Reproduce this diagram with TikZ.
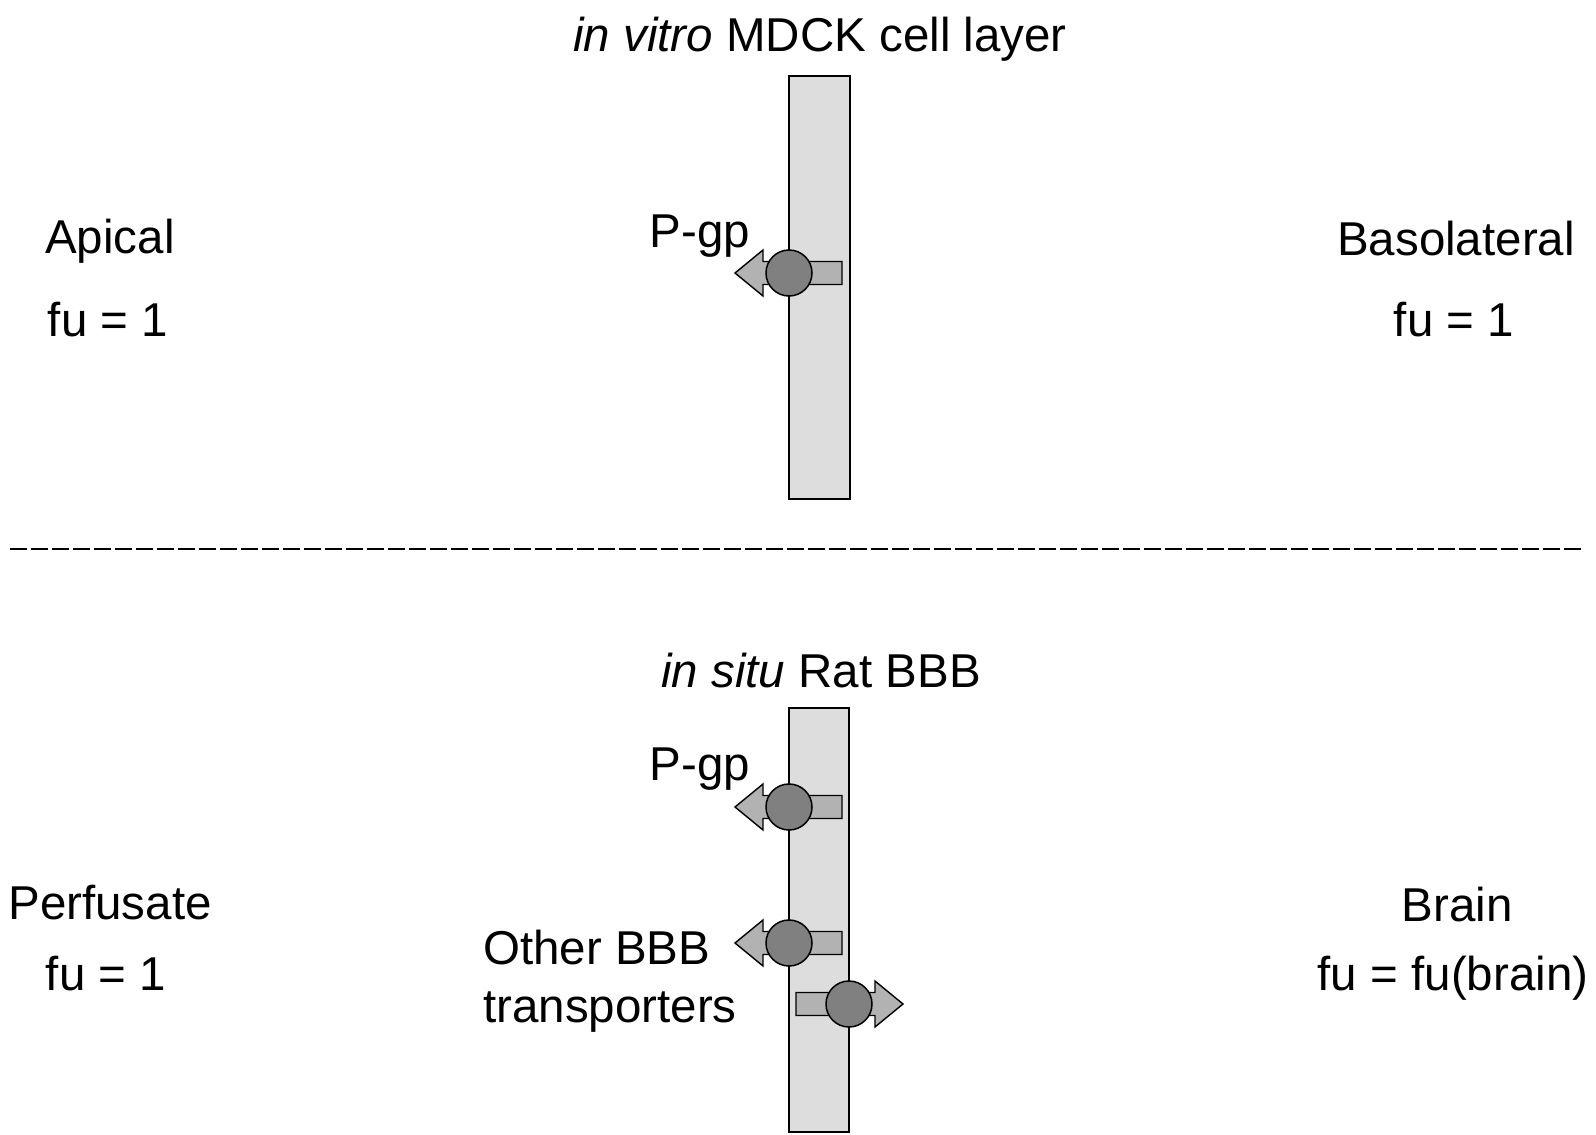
\documentclass[tikz,border=0pt]{standalone}
\usepackage{fontspec}
\setmainfont{Liberation Sans}
\begin{document}
\begin{tikzpicture}[x=1pt,y=-1pt,
  lbl/.style={inner sep=0pt,anchor=base,font=\fontsize{47.5}{58}\selectfont},
  membrane/.style={draw=black,line width=1.5pt,fill=memgray},
  arrowfill/.style={draw=black,line width=1.4pt,fill=arrgray,line join=miter},
  circ/.style={circle,draw=black,line width=1.5pt,fill=circgray,minimum size=46pt,inner sep=0pt},
  divider/.style={line width=2.2pt,dash pattern=on 17pt off 4pt},
  pics/transp/.style={code={
    \draw[arrowfill] (-54,0) -- (-26,-23) -- (-26,-11.5) -- (53,-11.5) -- (53,11.5) -- (-26,11.5) -- (-26,23) -- cycle;
    \node[circ] (-c) at (0,0) {};
  }}
]
\definecolor{memgray}{HTML}{DDDDDD}
\definecolor{arrgray}{HTML}{B2B2B2}
\definecolor{circgray}{HTML}{808080}
\useasboundingbox (0,0) rectangle (1596,1135);

% top panel
\node[lbl] (title1) at (820,51) {\textit{in vitro} MDCK cell layer};
\draw[membrane] (789,76) rectangle (850,499);
\node[lbl] (apical) at (110,253) {Apical};
\node[lbl] (fuA) at (108,336) {fu = 1};
\node[lbl] (baso) at (1456,255) {Basolateral};
\node[lbl] (fuB) at (1454,336) {fu = 1};
\node[lbl] (pgp1) at (700,247) {P-gp};
\pic (t1) at (789,273) {transp};

% divider
\coordinate (dL) at (10,549);
\coordinate (dR) at (1582,549);
\draw[divider] (dL) -- (dR);

% bottom panel
\node[lbl] (title2) at (821,687) {\textit{in situ} Rat BBB};
\draw[membrane] (789,708) rectangle (849,1132);
\node[lbl] (pgp2) at (700,780) {P-gp};
\pic (t2) at (789,807) {transp};
\pic (t3) at (789,943) {transp};
\pic[xscale=-1] (t4) at (849,1004) {transp};
\node[lbl,anchor=base west,align=left] (other) at (483,1022) {Other BBB\\transporters};
\node[lbl] (perf) at (110,919) {Perfusate};
\node[lbl] (fuP) at (106,990) {fu = 1};
\node[lbl] (brain) at (1457,921) {Brain};
\node[lbl] (fuBr) at (1453,990) {fu = fu(brain)};
\end{tikzpicture}
\end{document}
